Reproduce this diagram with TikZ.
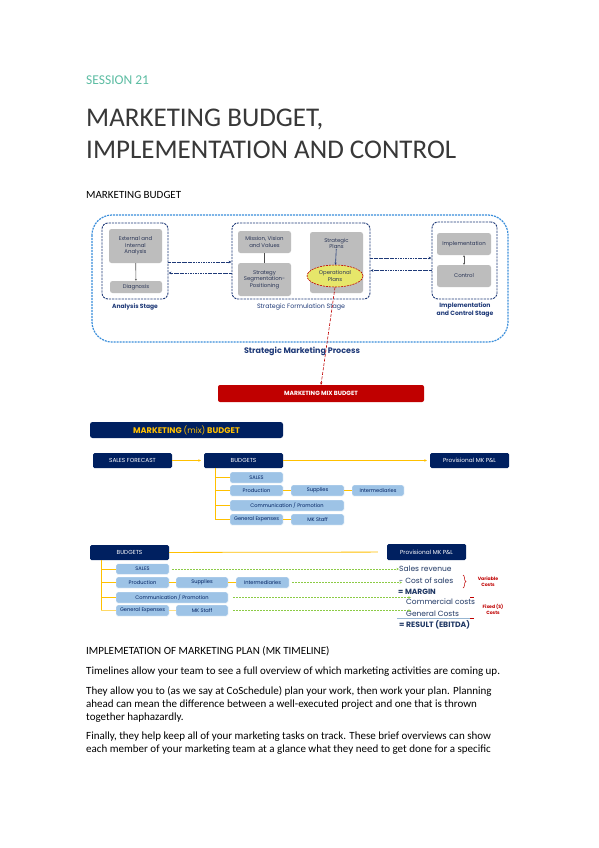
\documentclass[tikz,border=0pt]{standalone}
\usepackage{fontspec}
\setmainfont{Carlito}
\newfontfamily\dgfont{Poppins}
\usetikzlibrary{arrows.meta,shapes.geometric,decorations.pathreplacing}
\definecolor{navy}{HTML}{002060}
\definecolor{stagenavy}{HTML}{1F3A78}
\definecolor{oblue}{HTML}{3A8EDB}
\definecolor{boxgray}{HTML}{BDBDBD}
\definecolor{gtext}{HTML}{2A3556}
\definecolor{opyellow}{HTML}{E6E66A}
\definecolor{darkred}{HTML}{C00000}
\definecolor{lblue}{HTML}{9DC3E6}
\definecolor{ygold}{HTML}{FFC000}
\definecolor{lgreen}{HTML}{8CCB45}
\definecolor{pnavy}{HTML}{203864}
\definecolor{sessteal}{HTML}{5DBDA3}
\begin{document}
\begin{tikzpicture}[x=1pt,y=-1pt,
  gbox/.style={fill=boxgray, rounded corners=2.5pt, inner sep=0pt, align=center, text=gtext, font=\dgfont\fontsize{5.4}{6.4}\selectfont},
  stagebox/.style={draw=stagenavy, line width=0.9pt, dash pattern=on 2.2pt off 1pt, rounded corners=6pt, inner sep=0pt},
  conn/.style={draw=stagenavy, line width=0.8pt, dash pattern=on 2.5pt off 0.8pt on 0.8pt off 0.8pt, -{Stealth[length=3pt,width=2.6pt]}},
  navybox/.style={fill=navy, rounded corners=1.5pt, inner sep=0pt, text=white, font=\dgfont\fontsize{5.8}{6.5}\selectfont},
  lbbox/.style={fill=lblue, draw=white, line width=0.4pt, rounded corners=1.5pt, inner sep=0pt, text=navy, font=\dgfont\fontsize{5.1}{6}\selectfont},
  yline/.style={draw=ygold, line width=0.8pt},
  yarrow/.style={draw=ygold, line width=0.8pt, -{Stealth[length=2.5pt,width=2.5pt]}, shorten >=3pt},
  gdash/.style={draw=lgreen, line width=0.75pt, dash pattern=on 2pt off 1pt, -{Stealth[length=2.6pt,width=2.4pt]}},
  pltext/.style={anchor=base west, inner sep=0pt, text=pnavy, font=\dgfont\fontsize{7.5}{9}\selectfont},
  redlab/.style={text=darkred, font=\dgfont\fontsize{4.6}{5.8}\selectfont\bfseries, align=center, inner sep=0pt},
  stagelab/.style={text=stagenavy, inner sep=0pt, align=center, font=\dgfont\fontsize{6.1}{7.5}\selectfont\bfseries},
  bodyline/.style={anchor=base west, inner sep=0pt, font=\fontsize{11}{13}\selectfont}
]
\fill[white] (0,0) rectangle (599,848);
\useasboundingbox (0,0) rectangle (599,848);

% ---------- headings ----------
\node[anchor=base west, inner sep=0pt, text=sessteal, font=\fontsize{13.5}{16}\selectfont] (sess) at (86,85) {SESSION 21};
\node[anchor=base west, inner sep=0pt, text=black!78, font=\fontsize{27}{31}\selectfont] (t1) at (86,127) {MARKETING BUDGET,};
\node[anchor=base west, inner sep=0pt, text=black!78, font=\fontsize{27}{31}\selectfont] (t2) at (86,158) {IMPLEMENTATION AND CONTROL};
\node[anchor=base west, inner sep=0pt, font=\fontsize{11}{12}\selectfont] (h1) at (86,198) {MARKETING BUDGET};

% ---------- strategic marketing process ----------
\draw[draw=oblue, line width=1.2pt, dash pattern=on 2pt off 1pt, rounded corners=20pt] (92,215) rectangle (508,342);

\node[stagebox, minimum width=66, minimum height=76] (an) at (135,261) {};
\node[stagebox, minimum width=138, minimum height=76] (sf) at (301,261) {};
\node[stagebox, minimum width=65, minimum height=77] (ic) at (464.5,260.5) {};

\node[gbox, minimum width=53, minimum height=34] (ext) at (135.5,246) {External and\\Internal\\Analysis};
\node[gbox, minimum width=52, minimum height=12] (diag) at (136,287) {Diagnosis};
\draw[gray!70!black, line width=0.6pt, -{Stealth[length=2pt,width=2pt]}] (ext) -- (diag);

\node[gbox, minimum width=53, minimum height=22] (mvv) at (264.5,242) {Mission, Vision\\and Values};
\node[gbox, minimum width=53, minimum height=33] (ssp) at (264.5,279.5) {Strategy\\Segmentation-\\Positioning};
\draw[gray!60!black, line width=1pt] (mvv) -- (ssp);

\node[gbox, minimum width=53, minimum height=61] (sp) at (336.5,262.5) {};
\node[text=gtext, inner sep=0pt, align=center, font=\dgfont\fontsize{5.4}{6.4}\selectfont] (spt) at (336.5,243.5) {Strategic\\Plans};
\node[ellipse, fill=opyellow, draw=darkred, dash pattern=on 2pt off 1pt, line width=0.6pt, minimum width=56, minimum height=22, inner sep=0pt, align=center, text=gtext, font=\dgfont\fontsize{5.4}{6.4}\selectfont] (op) at (335,276) {Operational\\Plans};
\draw[stagenavy, line width=0.6pt, -{Stealth[length=2.2pt,width=2.2pt]}] (spt) -- (op);

\node[gbox, minimum width=54, minimum height=22] (impl) at (464,244) {Implementation};
\node[gbox, minimum width=54, minimum height=22] (ctrl) at (464,276) {Control};
\draw[gray!70!black, line width=0.6pt, {Stealth[length=2pt,width=2pt]}-{Stealth[length=2pt,width=2pt]}] (impl) -- (ctrl);

\draw[conn] ([yshift=-1pt]an.east) -- ([yshift=-1pt]an.east -| sf.west);
\draw[conn] ([yshift=-12pt]sf.west) -- ([yshift=-12pt]sf.west -| an.east);
\draw[conn] ([yshift=3pt]sf.east) -- ([yshift=3pt]sf.east -| ic.west);
\draw[conn] ([yshift=-10pt]ic.west) -- ([yshift=-10pt]ic.west -| sf.east);

\node[stagelab, font=\dgfont\fontsize{6}{7.5}\selectfont\bfseries] (anl) at (135,307) {Analysis Stage};
\node[stagelab, font=\dgfont\fontsize{6.3}{7.5}\selectfont] (sfl) at (301,307) {Strategic Formulation Stage};
\node[stagelab] (icl) at (465,310) {Implementation\\and Control Stage};
\node[text=stagenavy, inner sep=0pt, font=\dgfont\fontsize{8}{9}\selectfont\bfseries] (smp) at (302,351) {Strategic Marketing Process};

\node[fill=darkred, rounded corners=2pt, minimum width=206, minimum height=17, inner sep=0pt, text=white, font=\dgfont\fontsize{6}{7}\selectfont\bfseries] (mmb) at (321,393.5) {MARKETING MIX BUDGET};
\draw[darkred, line width=0.6pt, dash pattern=on 3pt off 1.5pt, -{Stealth[length=2.5pt,width=2.2pt]}] (op.south) -- (mmb.north);

% ---------- budget diagram 1 ----------
\node[fill=navy, rounded corners=2.5pt, minimum width=193, minimum height=16, inner sep=0pt, text=ygold, font=\dgfont\fontsize{8.2}{9}\selectfont\bfseries] (mkb) at (186.5,430) {MARKETING {\mdseries(mix)} BUDGET};

\node[navybox, minimum width=79, minimum height=15] (sfc) at (132.5,460.5) {SALES FORECAST};
\node[navybox, minimum width=79, minimum height=15] (bud1) at (243.5,460.5) {BUDGETS};
\node[navybox, minimum width=79, minimum height=15] (pl1) at (469.5,460.5) {Provisional MK P\&L};

\node[lbbox, minimum width=53, minimum height=11] (sales1) at (256.5,477.5) {SALES};
\node[lbbox, minimum width=53, minimum height=11] (prod1) at (256.5,490.5) {Production};
\node[lbbox, minimum width=53, minimum height=11] (sup1) at (317.5,490.5) {Supplies};
\node[lbbox, minimum width=52, minimum height=11] (int1) at (378,490.5) {Intermediaries};
\node[lbbox, minimum width=114, minimum height=11] (com1) at (287,505.5) {Communication / Promotion};
\node[lbbox, minimum width=53, minimum height=11] (gen1) at (256.5,519.5) {General Expenses};
\node[lbbox, minimum width=53, minimum height=11] (mks1) at (317.5,519.5) {MK Staff};

\draw[yarrow] (sfc) -- (bud1);
\draw[yarrow] (bud1) -- (pl1);
\coordinate (v1) at (215,0);
\draw[yline] (bud1.south -| v1) -- (gen1.west -| v1);
\draw[yline] (sales1.west -| v1) -- (sales1.west);
\draw[yline] (prod1.west -| v1) -- (prod1.west);
\draw[yline] (com1.west -| v1) -- (com1.west);
\draw[yline] (gen1.west -| v1) -- (gen1.west);
\draw[yline] (prod1) -- (sup1);
\draw[yline] (sup1) -- (int1);
\draw[yline] (gen1) -- (mks1);

% ---------- budget diagram 2 ----------
\node[navybox, minimum width=79, minimum height=15] (bud2) at (129.5,552.5) {BUDGETS};
\node[navybox, minimum width=79, minimum height=16] (pl2) at (426.5,552) {Provisional MK P\&L};

\node[lbbox, minimum width=53, minimum height=10.5] (sales2) at (142.5,569) {SALES};
\node[lbbox, minimum width=53, minimum height=11] (prod2) at (142.5,582.5) {Production};
\node[lbbox, minimum width=52, minimum height=11] (sup2) at (202,582.5) {Supplies};
\node[lbbox, minimum width=53, minimum height=11] (int2) at (262.5,582.5) {Intermediaries};
\node[lbbox, minimum width=112, minimum height=11] (com2) at (172,597.5) {Communication / Promotion};
\node[lbbox, minimum width=53, minimum height=11] (gen2) at (142.5,610.5) {General Expenses};
\node[lbbox, minimum width=52, minimum height=11] (mks2) at (202,610.5) {MK Staff};

\draw[yline, shorten >=9pt] (bud2) -- (pl2);
\coordinate (v2) at (101,0);
\draw[yline] (bud2.south -| v2) -- (gen2.west -| v2);
\draw[yline] (sales2.west -| v2) -- (sales2.west);
\draw[yline, line width=1.3pt] (prod2.west -| v2) -- (prod2.west);
\draw[yline] (com2.west -| v2) -- (com2.west);
\draw[yline, draw=ygold!60] (gen2.west -| v2) -- (gen2.west);
\draw[yline, line width=1.3pt] (prod2) -- (sup2);
\draw[yline, line width=1.3pt] (sup2) -- (int2);
\draw[yline, draw=ygold!50] (gen2) -- (mks2);

\node[pltext] (srev) at (399,571) {Sales revenue};
\node[pltext] (cos) at (399,583) {- Cost of sales};
\node[pltext, font=\dgfont\fontsize{7.5}{9}\selectfont\bfseries] (mar) at (398,594) {= MARGIN};
\node[pltext] (cc) at (406,604.5) {Commercial costs};
\node[pltext] (gc) at (406,616) {General Costs};
\draw[lblue!80!gray, line width=0.7pt] (397,618) -- (472,618);
\node[pltext, font=\dgfont\fontsize{7.7}{9}\selectfont\bfseries] (res) at (399,627) {= RESULT (EBITDA)};

\draw[gdash] ([xshift=3pt]sales2.east) -- (sales2.east -| srev.west);
\draw[gdash] ([xshift=3pt]int2.east) -- ([xshift=3pt]int2.east -| cos.west);
\draw[gdash] ([xshift=5pt]com2.east) -- ([xshift=5pt]com2.east -| cc.west);
\draw[gdash] ([xshift=5pt]mks2.east) -- ([xshift=5pt]mks2.east -| gc.west);

\draw[darkred, line width=0.5pt, decorate, decoration={brace, amplitude=3pt}] (463,575) -- (463,588);
\node[redlab] (varc) at (488,581.5) {Variable\\Costs};
\draw[darkred, line width=0.5pt] (470,597) -- (474,597);
\draw[darkred, line width=0.5pt] (470,618) -- (474,618);
\node[redlab] (fixc) at (493,609.5) {Fixed (S)\\Costs};

% ---------- text section ----------
\node[anchor=base west, inner sep=0pt, font=\fontsize{11}{12}\selectfont] (h2) at (86,654) {IMPLEMETATION OF MARKETING PLAN (MK TIMELINE)};
\node[bodyline] (p1) at (86,674) {Timelines allow your team to see a full overview of which marketing activities are coming up.};
\node[bodyline] (p2a) at (86,694) {They allow you to (as we say at CoSchedule) plan your work, then work your plan. Planning};
\node[bodyline] (p2b) at (86,707) {ahead can mean the difference between a well-executed project and one that is thrown};
\node[bodyline] (p2c) at (86,720) {together haphazardly.};
\node[bodyline] (p3a) at (86,739.5) {Finally, they help keep all of your marketing tasks on track. These brief overviews can show};
\node[bodyline] (p3b) at (86,752.5) {each member of your marketing team at a glance what they need to get done for a specific};
\end{tikzpicture}
\end{document}
